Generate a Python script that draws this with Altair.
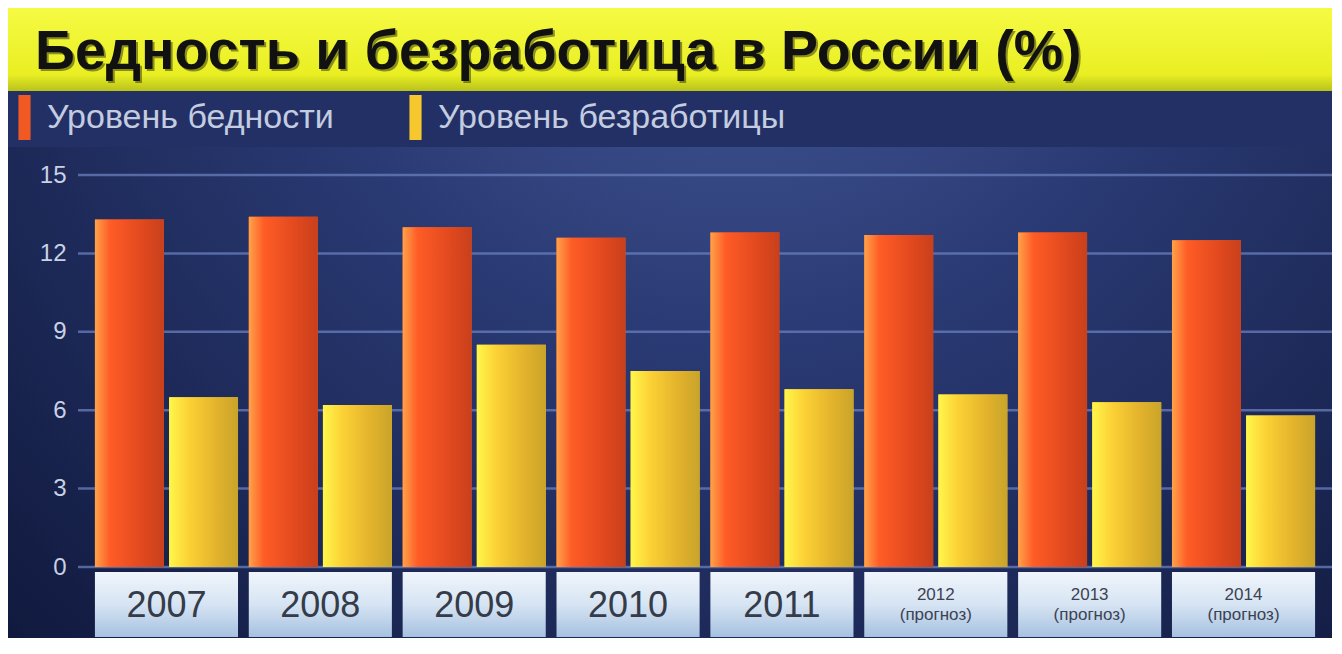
import altair as alt
import pandas as pd

years = ["2007", "2008", "2009", "2010", "2011", "2012", "2013", "2014"]
forecast = [False, False, False, False, False, True, True, True]
poverty = [13.3, 13.4, 13.0, 12.6, 12.8, 12.7, 12.8, 12.5]
unemployment = [6.5, 6.2, 8.5, 7.5, 6.8, 6.6, 6.3, 5.8]
series_names = ["Уровень бедности", "Уровень безработицы"]
y_ticks = [0, 3, 6, 9, 12, 15]
title_text = "Бедность и безработица в России (%)"
forecast_word = "(прогноз)"

W, H = 1254, 392
PAD_L, PAD_T, PAD_B = 70, 167, 71
FONT = "Liberation Sans"

rows = []
for i, yr in enumerate(years):
    rows.append({"year": yr, "series": series_names[0], "value": poverty[i]})
    rows.append({"year": yr, "series": series_names[1], "value": unemployment[i]})
df = pd.DataFrame(rows)

labels_df = pd.DataFrame({
    "year": years,
    "forecast": forecast,
    "label": [f"{y}\n{forecast_word}" if f else y for y, f in zip(years, forecast)],
})
one = pd.DataFrame({"a": [0]})
ticks_df = pd.DataFrame({"value": y_ticks})

x_scale = alt.Scale(domain=years, paddingInner=0.07, paddingOuter=0.11)
y_scale = alt.Scale(domain=[0, 15], nice=False, zero=True)
xo_scale = alt.Scale(domain=series_names, paddingInner=0.07, paddingOuter=0)
y_axis = alt.Axis(values=y_ticks, title=None, grid=False, ticks=False,
                  domain=False, labelFontSize=24, labelColor="#c9d1e4",
                  labelFont=FONT, labelPadding=12, zindex=1)

def lin(stops, vertical=False):
    return {"gradient": "linear", "x1": 0, "y1": 0,
            "x2": 0 if vertical else 1, "y2": 1 if vertical else 0,
            "stops": [{"offset": o, "color": c} for o, c in stops]}

bg_grad = {"gradient": "radial", "x1": 0.55, "y1": 0.12, "r1": 0,
           "x2": 0.55, "y2": 0.12, "r2": 0.85,
           "stops": [{"offset": 0, "color": "#4a5f9e"},
                     {"offset": 0.4, "color": "#2a3a74"},
                     {"offset": 1, "color": "#0d1536"}]}
banner_grad = lin([(0, "#f6fa44"), (0.8, "#e9ef22"), (1, "#b9c21c")], vertical=True)
box_grad = lin([(0, "#f0f5fb"), (0.5, "#d6e4f3"), (1, "#a6c1e0")], vertical=True)
red_grad = lin([(0, "#ffa24a"), (0.22, "#ff5c26"), (0.7, "#e0481e"), (1, "#c8401c")])
yel_grad = lin([(0, "#fff64a"), (0.3, "#fbd035"), (0.7, "#e2b22c"), (1, "#c9a42a")])

bg = alt.Chart(one).mark_rect(fill=bg_grad).encode(
    x=alt.value(-PAD_L), x2=alt.value(W), y=alt.value(-28), y2=alt.value(H + PAD_B))
banner = alt.Chart(one).mark_rect(fill=banner_grad).encode(
    x=alt.value(-PAD_L), x2=alt.value(W), y=alt.value(-PAD_T), y2=alt.value(-84))
legend_band = alt.Chart(one).mark_rect(fill="#233066").encode(
    x=alt.value(-PAD_L), x2=alt.value(W), y=alt.value(-84), y2=alt.value(-28))
title_shadow = alt.Chart(one).mark_text(
    text=title_text, font=FONT, fontSize=55.5, fontWeight="bold", align="left",
    baseline="middle", color="#3a3d10", opacity=0.55).encode(
    x=alt.value(-41), y=alt.value(-121))
title = alt.Chart(one).mark_text(
    text=title_text, font=FONT, fontSize=55.5, fontWeight="bold", align="left",
    baseline="middle", color="#111111").encode(
    x=alt.value(-43), y=alt.value(-123))

grid = alt.Chart(ticks_df).mark_rule(color="#6a7fbd", strokeWidth=2.5, opacity=0.75).encode(
    y=alt.Y("value:Q", scale=y_scale, axis=y_axis),
    x=alt.value(0), x2=alt.value(W))

base = alt.Chart(df).encode(
    x=alt.X("year:N", scale=x_scale, sort=years, axis=None),
    xOffset=alt.XOffset("series:N", scale=xo_scale, sort=series_names),
    y=alt.Y("value:Q", scale=y_scale, axis=y_axis),
)
bars = base.mark_bar().encode(
    color=alt.Color("series:N", sort=series_names,
                    scale=alt.Scale(domain=series_names, range=["#f05a22", "#f6c82e"]),
                    legend=alt.Legend(
                        title=None, orient="none", direction="horizontal",
                        legendX=-76, legendY=-80, padding=0,
                        symbolType="M-0.27,-1H0.27V1H-0.27Z", symbolSize=2025,
                        symbolStrokeWidth=0, labelFontSize=34, labelFont=FONT,
                        labelColor="#c4cce0", labelOffset=0, labelLimit=0,
                        columnPadding=59)))
bars_red = base.transform_filter(alt.datum.series == series_names[0]).mark_bar(fill=red_grad)
bars_yel = base.transform_filter(alt.datum.series == series_names[1]).mark_bar(fill=yel_grad)

boxes = alt.Chart(labels_df).mark_rect(fill=box_grad).encode(
    x=alt.X("year:N", scale=x_scale, sort=years, axis=None),
    y=alt.value(H + 5), y2=alt.value(H + 70))
year_txt = alt.Chart(labels_df).transform_filter(~alt.datum.forecast).mark_text(
    font=FONT, fontSize=36, color="#353b49", baseline="middle").encode(
    x=alt.X("year:N", scale=x_scale, sort=years, axis=None, bandPosition=0.5),
    y=alt.value(H + 39), text="label:N")
fc_txt = alt.Chart(labels_df).transform_filter(alt.datum.forecast).mark_text(
    font=FONT, fontSize=17, color="#3c4252", baseline="middle", lineBreak="\n",
    lineHeight=20).encode(
    x=alt.X("year:N", scale=x_scale, sort=years, axis=None, bandPosition=0.5),
    y=alt.value(H + 28), text="label:N")

chart = alt.layer(
    bg, banner, legend_band, title_shadow, title, grid, bars, bars_red, bars_yel,
    boxes, year_txt, fc_txt
).properties(
    width=W, height=H,
    padding={"left": PAD_L, "top": PAD_T, "right": 0, "bottom": PAD_B},
    autosize=alt.AutoSizeParams(type="none"),
    background="#131c44",
).configure_view(stroke=None)

chart.save("out.html", embed_options={"renderer": "svg", "actions": False})
